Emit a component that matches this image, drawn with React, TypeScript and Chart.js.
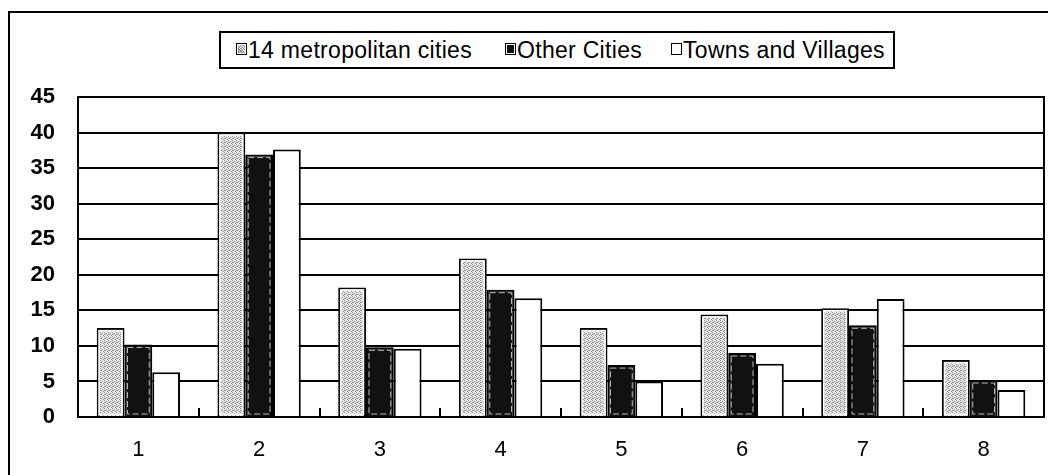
import React, { useEffect, useRef } from 'react';
import { Chart, registerables } from 'chart.js';

Chart.register(...registerables);

const categories = ['1', '2', '3', '4', '5', '6', '7', '8'];
const metroValues = [12.5, 40.0, 18.2, 22.3, 12.5, 14.4, 15.3, 8.0];
const otherValues = [10.2, 36.9, 9.8, 17.9, 7.3, 9.0, 12.9, 5.2];
const townValues = [6.3, 37.6, 9.6, 16.7, 5.0, 7.5, 16.6, 3.8];
const seriesNames = ['14 metropolitan cities', 'Other Cities', 'Towns and Villages'];
const yMax = 45;
const yStep = 5;

function makeGrayPattern(): CanvasPattern | string {
  const c = document.createElement('canvas');
  c.width = 4;
  c.height = 4;
  const g = c.getContext('2d');
  if (!g) return '#c4c4c4';
  g.fillStyle = '#e8e8e8';
  g.fillRect(0, 0, 4, 4);
  g.fillStyle = '#8c8c8c';
  g.fillRect(0, 0, 1, 1);
  g.fillRect(2, 1, 1, 1);
  g.fillRect(1, 2, 1, 1);
  g.fillRect(3, 3, 1, 1);
  g.fillRect(0, 2, 1, 1);
  const p = g.createPattern(c, 'repeat');
  return p || '#c4c4c4';
}

const framePlugin = {
  id: 'plotFrame',
  beforeDatasetsDraw(chart: any) {
    const { ctx, chartArea } = chart;
    ctx.save();
    ctx.strokeStyle = '#000';
    ctx.lineWidth = 2;
    ctx.strokeRect(chartArea.left, chartArea.top, chartArea.right - chartArea.left, chartArea.bottom - chartArea.top);
    ctx.restore();
  },
};

const innerLinePlugin = {
  id: 'barInnerLines',
  afterDatasetsDraw(chart: any) {
    const { ctx } = chart;
    ctx.save();
    [0, 1].forEach((di) => {
      const meta = chart.getDatasetMeta(di);
      meta.data.forEach((bar: any) => {
        const p = bar.getProps(['x', 'y', 'base', 'width'], true);
        const left = p.x - p.width / 2;
        const top = Math.min(p.y, p.base);
        const h = Math.abs(p.base - p.y);
        if (di === 0) {
          ctx.strokeStyle = '#fff';
          ctx.lineWidth = 1.5;
          ctx.setLineDash([]);
          ctx.strokeRect(left + 2.5, top + 2.5, p.width - 5, h - 4);
        } else {
          ctx.strokeStyle = '#bbb';
          ctx.lineWidth = 1;
          ctx.setLineDash([6, 3]);
          ctx.strokeRect(left + 3, top + 3, p.width - 6, h - 5);
        }
      });
    });
    ctx.restore();
  },
};

const FONT = "'Liberation Sans', Arial, sans-serif";

export default function App() {
  const canvasRef = useRef<HTMLCanvasElement | null>(null);

  useEffect(() => {
    if (!canvasRef.current) return;
    const gray = makeGrayPattern();
    const chart = new Chart(canvasRef.current, {
      type: 'bar',
      data: {
        labels: categories,
        datasets: [
          {
            label: seriesNames[0],
            data: metroValues,
            backgroundColor: gray as any,
            borderColor: '#000',
            borderWidth: 2,
            categoryPercentage: 0.69,
            barPercentage: 1.0,
          },
          {
            label: seriesNames[1],
            data: otherValues,
            backgroundColor: '#111',
            borderColor: '#000',
            borderWidth: 2,
            categoryPercentage: 0.69,
            barPercentage: 1.0,
          },
          {
            label: seriesNames[2],
            data: townValues,
            backgroundColor: '#fff',
            borderColor: '#000',
            borderWidth: 2,
            categoryPercentage: 0.69,
            barPercentage: 1.0,
          },
        ],
      },
      options: {
        responsive: false,
        maintainAspectRatio: false,
        animation: false,
        layout: { padding: { left: 0, right: 4, top: 97, bottom: 0 } },
        plugins: {
          legend: { display: false },
          tooltip: { enabled: false },
        },
        scales: {
          x: {
            grid: {
              display: true,
              drawOnChartArea: false,
              drawTicks: true,
              tickLength: -9,
              color: '#000',
              lineWidth: 2,
            },
            border: { display: true, color: '#000', width: 2 },
            ticks: {
              color: '#000',
              padding: 29,
              font: { family: FONT, size: 22 },
            },
            afterFit(scale: any) {
              scale.height = 58;
            },
          },
          y: {
            min: 0,
            max: yMax,
            grid: { color: '#000', lineWidth: 2, drawTicks: false },
            border: { display: true, color: '#000', width: 2 },
            ticks: {
              stepSize: yStep,
              color: '#000',
              padding: 23,
              font: { family: FONT, size: 22, weight: 'bold' },
            },
            afterFit(scale: any) {
              scale.width = 78;
            },
          },
        },
      },
      plugins: [framePlugin, innerLinePlugin],
    });
    return () => chart.destroy();
  }, []);

  const legendItems = [
    { name: seriesNames[0], markerLeft: 236, textLeft: 248, kind: 'gray' },
    { name: seriesNames[1], markerLeft: 505, textLeft: 517, kind: 'black' },
    { name: seriesNames[2], markerLeft: 671, textLeft: 683, kind: 'white' },
  ];

  const markerStyle = (kind: string, left: number): React.CSSProperties => {
    const base: React.CSSProperties = {
      position: 'absolute',
      left,
      top: 43,
      width: 11,
      height: 12,
      boxSizing: 'border-box',
      border: '1.5px solid #000',
    };
    if (kind === 'gray')
      return { ...base, background: 'repeating-linear-gradient(45deg, #888 0 1px, #ddd 1px 2px)', boxShadow: 'inset 0 0 0 1px #fff' };
    if (kind === 'black') return { ...base, background: '#111', boxShadow: 'inset 0 0 0 1px #fff' };
    return { ...base, background: '#fff' };
  };

  return (
    <div style={{ position: 'fixed', left: 0, top: 0, width: 1048, height: 475, overflow: 'hidden', background: '#fff' }}>
      <div
        style={{
          position: 'absolute',
          left: 8,
          top: 11,
          width: 1200,
          height: 600,
          borderLeft: '2px solid #000',
          borderTop: '2px solid #000',
        }}
      />
      <canvas ref={canvasRef} width={1048} height={475} style={{ position: 'absolute', left: 0, top: 0, width: 1048, height: 475 }} />
      <div
        style={{
          position: 'absolute',
          left: 219,
          top: 31,
          width: 676,
          height: 38,
          boxSizing: 'border-box',
          border: '2px solid #000',
          background: '#fff',
        }}
      />
      {legendItems.map((it) => (
        <React.Fragment key={it.name}>
          <div style={markerStyle(it.kind, it.markerLeft)} />
          <div
            style={{
              position: 'absolute',
              left: it.textLeft,
              top: 36,
              height: 28,
              lineHeight: '28px',
              fontFamily: FONT,
              fontSize: 23,
              letterSpacing: 0.3,
              color: '#000',
              whiteSpace: 'nowrap',
            }}
          >
            {it.name}
          </div>
        </React.Fragment>
      ))}
    </div>
  );
}
